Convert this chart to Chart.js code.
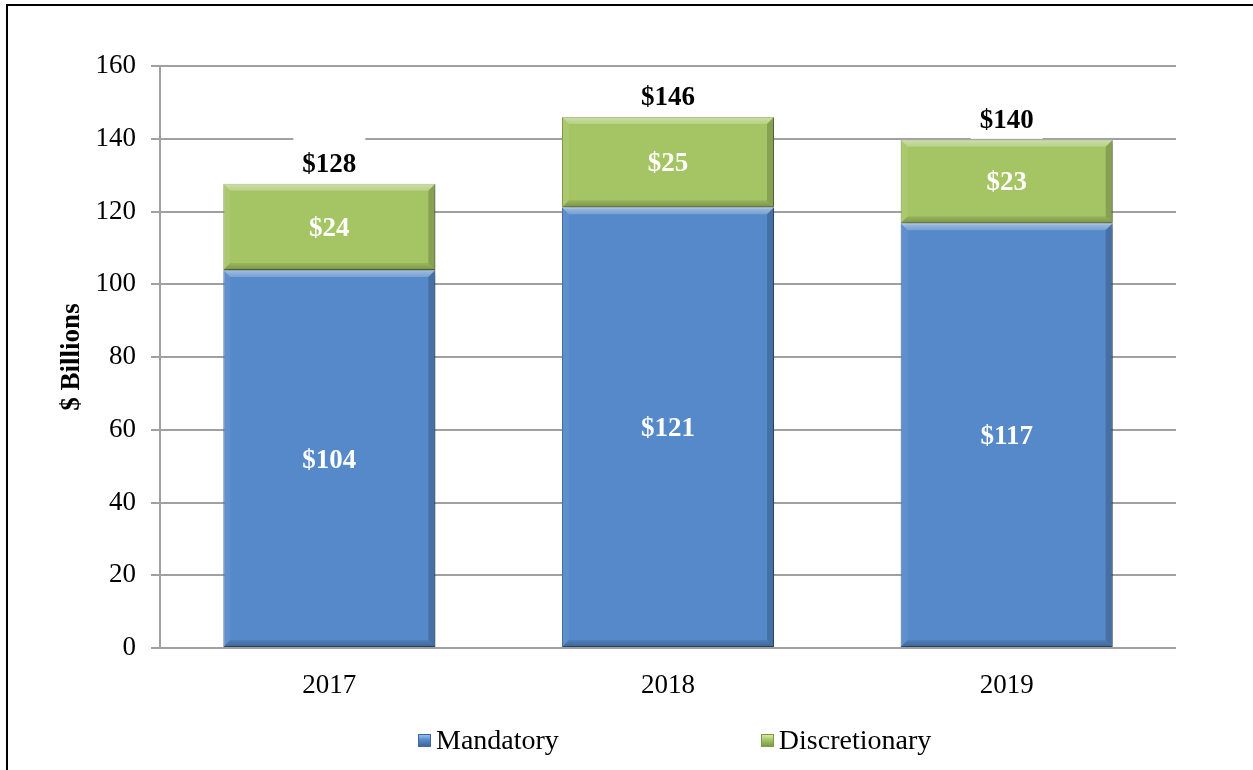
<!DOCTYPE html>
<html>
<head>
<meta charset="utf-8">
<script src="https://cdn.jsdelivr.net/npm/chart.js@4/dist/chart.umd.min.js"></script>
<style>
  html, body { margin: 0; padding: 0; background: #fff; }
  body { width: 1253px; height: 770px; position: relative; overflow: hidden; }
  #frame { position: absolute; left: 6px; top: 4px; width: 1400px; height: 900px;
           border-left: 2px solid #000; border-top: 2px solid #000; }
  #wrap { position: absolute; left: 0; top: 0; width: 1253px; height: 770px; }
  #legend { position: absolute; left: 418px; top: 725px; display: flex; gap: 202px;
            font-family: 'Liberation Serif', 'Times New Roman', serif; font-size: 28px;
            line-height: 30px; color: #000; }
  .item { display: flex; align-items: center; }
  .sw { width: 13px; height: 13px; margin-right: 5px; box-sizing: border-box; }
</style>
</head>
<body>
<div id="frame"></div>
<div id="wrap"><canvas id="c" width="1253" height="770"></canvas></div>
<div id="legend"></div>
<script>
// ---- data ----
const categories = ['2017', '2018', '2019'];
const seriesNames = ['Mandatory', 'Discretionary'];
const mandatory = [103.9, 121.2, 116.8];
const discretionary = [23.7, 24.8, 22.9];
const yTicks = [0, 20, 40, 60, 80, 100, 120, 140, 160];

const FONT = "'Liberation Serif', 'Times New Roman', serif";
const fills = ['#5589C9', '#A5C564'];
const borders = ['#41699C', '#7E9A47'];
const swatches = ['linear-gradient(to bottom, #8DBDF0 0%, #5589C9 45%, #3F679B 100%)',
                  'linear-gradient(to bottom, #D3EBA0 0%, #A5C564 45%, #7E9A47 100%)'];

// legend (HTML)
const lg = document.getElementById('legend');
seriesNames.forEach((n, i) => {
  const it = document.createElement('div'); it.className = 'item';
  const sw = document.createElement('div'); sw.className = 'sw';
  sw.style.background = swatches[i]; sw.style.border = '1px solid ' + borders[i];
  const tx = document.createElement('span'); tx.textContent = n;
  it.appendChild(sw); it.appendChild(tx); lg.appendChild(it);
});

const fmt = v => '$' + Math.round(v);

const shadowPlugin = {
  id: 'shadowPlugin',
  beforeDatasetsDraw(chart) {
    const ctx = chart.ctx; ctx.save();
    ctx.shadowColor = 'rgba(0,0,0,0.35)'; ctx.shadowBlur = 5;
    ctx.shadowOffsetX = 2; ctx.shadowOffsetY = 2;
  },
  afterDatasetsDraw(chart) {
    const ctx = chart.ctx; ctx.restore();
    // bevels
    chart.data.datasets.forEach((ds, di) => {
      const meta = chart.getDatasetMeta(di);
      meta.data.forEach(el => {
        const p = el.getProps(['x', 'y', 'base', 'width'], true);
        const l = p.x - p.width / 2, r = p.x + p.width / 2;
        const t = Math.min(p.y, p.base), b = Math.max(p.y, p.base);
        const s = 7;
        const poly = (pts, col) => {
          ctx.beginPath(); ctx.moveTo(pts[0][0], pts[0][1]);
          for (let k = 1; k < pts.length; k++) ctx.lineTo(pts[k][0], pts[k][1]);
          ctx.closePath(); ctx.fillStyle = col; ctx.fill();
        };
        ctx.save();
        let g = ctx.createLinearGradient(0, t, 0, t + s);
        g.addColorStop(0, 'rgba(255,255,255,0.45)'); g.addColorStop(1, 'rgba(255,255,255,0.2)');
        poly([[l, t], [r, t], [r - s, t + s], [l + s, t + s]], g);
        g = ctx.createLinearGradient(0, b - s, 0, b);
        g.addColorStop(0, 'rgba(0,0,0,0.08)'); g.addColorStop(1, 'rgba(0,0,0,0.25)');
        poly([[l, b], [r, b], [r - s, b - s], [l + s, b - s]], g);
        poly([[l, t], [l + s, t + s], [l + s, b - s], [l, b]], 'rgba(255,255,255,0.06)');
        poly([[r, t], [r - s, t + s], [r - s, b - s], [r, b]], 'rgba(0,0,0,0.18)');
        ctx.restore();
      });
    });
    // inner labels
    ctx.save();
    ctx.textAlign = 'center'; ctx.textBaseline = 'middle';
    ctx.font = 'bold 27px ' + FONT; ctx.fillStyle = '#fff';
    chart.data.datasets.forEach((ds, di) => {
      const meta = chart.getDatasetMeta(di);
      meta.data.forEach((el, i) => {
        const p = el.getProps(['x', 'y', 'base'], true);
        ctx.fillText(fmt(ds.data[i]), p.x, (p.y + p.base) / 2 + 2);
      });
    });
    // totals
    const last = chart.getDatasetMeta(chart.data.datasets.length - 1);
    last.data.forEach((el, i) => {
      const p = el.getProps(['x', 'y'], true);
      const total = mandatory[i] + discretionary[i];
      ctx.fillStyle = '#fff';
      ctx.fillRect(p.x - 36, p.y - 47, 72, 46);
      ctx.fillStyle = '#000';
      ctx.fillText(fmt(total), p.x, p.y - 19);
    });
    ctx.restore();
  }
};

new Chart(document.getElementById('c'), {
  type: 'bar',
  data: {
    labels: categories,
    datasets: [
      { label: seriesNames[0], data: mandatory, backgroundColor: fills[0],
        borderColor: borders[0], borderWidth: 1, borderSkipped: false },
      { label: seriesNames[1], data: discretionary, backgroundColor: fills[1],
        borderColor: borders[1], borderWidth: 1, borderSkipped: false }
    ]
  },
  options: {
    responsive: false, animation: false,
    layout: { padding: { left: 0, right: 77, top: 66, bottom: 0 } },
    datasets: { bar: { categoryPercentage: 1, barPercentage: 0.626 } },
    plugins: { legend: { display: false }, tooltip: { enabled: false } },
    scales: {
      x: {
        stacked: true,
        grid: { display: false, drawTicks: false },
        border: { display: false },
        ticks: { color: '#000', font: { family: FONT, size: 27 }, padding: 22 },
        afterFit(s) { s.height = 122; }
      },
      y: {
        stacked: true, min: 0, max: 160,
        afterBuildTicks(s) { s.ticks = yTicks.map(v => ({ value: v })); },
        grid: { color: '#A0A0A0', lineWidth: 2, tickLength: 9 },
        border: { color: '#A0A0A0', width: 2 },
        ticks: { color: '#000', font: { family: FONT, size: 27 }, padding: 15 },
        title: { display: true, text: '$ Billions', color: '#000',
                 font: { family: FONT, size: 27, weight: 'bold' }, padding: { top: 56, bottom: 0 } },
        afterFit(s) { s.width = 160; }
      }
    }
  },
  plugins: [shadowPlugin]
});
</script>
</body>
</html>
